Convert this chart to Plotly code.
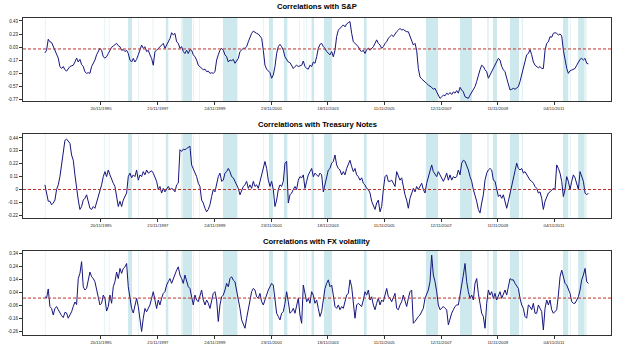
import pandas as pd
import plotly.graph_objects as go

# ---------------- data ----------------
start_date = "1993-11-29"
end_date = "2013-01-19"

sp_corr = [
    -0.06, -0.02, 0.15, 0.11, 0.10, 0.035, -0.02, -0.07, -0.14, -0.27,
    -0.30, -0.27, -0.32, -0.34, -0.31, -0.27, -0.26, -0.25, -0.20, -0.14,
    -0.20, -0.16, -0.24, -0.27, -0.35, -0.375, -0.365, -0.375, -0.27, -0.22,
    -0.17, -0.09, -0.04, 0.01, -0.02, -0.12, -0.14, -0.12, -0.07, -0.02,
    0.025, 0.045, 0.07, 0.086, 0.05, 0.035, -0.02, -0.01, -0.04, -0.02,
    -0.07, -0.17, -0.20, -0.145, -0.20, -0.16, -0.09, -0.02, 0.06, 0.01,
    0.035, -0.04, -0.02, -0.09, -0.145, -0.25, -0.04, -0.02, 0.01, 0.035,
    0.07, 0.086, 0.01, 0.06, 0.086, 0.16, 0.25, 0.215, 0.24, 0.11,
    0.086, 0.01, 0.035, -0.04, -0.07, -0.02, -0.07, -0.01, -0.02, -0.09,
    -0.12, -0.17, -0.25, -0.27, -0.30, -0.32, -0.31, -0.35, -0.34, -0.375,
    -0.365, -0.375, -0.35, -0.17, -0.09, -0.02, 0.01, -0.02, -0.09, -0.12,
    -0.20, -0.17, -0.18, -0.16, -0.22, -0.17, -0.145, -0.04, -0.02, 0.01,
    0.01, 0.035, 0.11, 0.19, 0.24, 0.275, 0.255, 0.24, 0.23, 0.20,
    0.165, -0.02, -0.25, -0.31, -0.34, -0.365, -0.45, -0.40, -0.27, -0.07,
    0.035, 0.07, 0.035, -0.02, -0.12, -0.17, -0.20, -0.21, -0.26, -0.30,
    -0.27, -0.25, -0.27, -0.26, -0.25, -0.185, -0.27, -0.30, -0.31, -0.25,
    -0.27, -0.20, -0.22, -0.12, 0.01, 0.07, 0.086, 0.035, 0.01, -0.04,
    -0.07, -0.09, -0.04, -0.12, -0.02, 0.19, 0.29, 0.317, 0.355, 0.37,
    0.34, 0.385, 0.405, 0.42, 0.24, 0.11, 0.086, 0.06, 0.035, -0.02,
    -0.04, -0.02, -0.07, -0.01, 0.01, -0.02, 0.01, 0.035, 0.086, 0.14,
    0.086, 0.06, 0.01, 0.035, 0.086, 0.11, 0.165, 0.19, 0.215, 0.19,
    0.24, 0.265, 0.29, 0.317, 0.29, 0.30, 0.28, 0.265, 0.265, 0.19,
    0.11, 0.06, 0.086, -0.02, -0.30, -0.43, -0.46, -0.48, -0.50, -0.53,
    -0.555, -0.57, -0.59, -0.62, -0.605, -0.66, -0.71, -0.76, -0.735, -0.71,
    -0.72, -0.68, -0.70, -0.67, -0.70, -0.66, -0.68, -0.64, -0.68, -0.59,
    -0.63, -0.66, -0.735, -0.75, -0.76, -0.71, -0.66, -0.605, -0.58, -0.50,
    -0.40, -0.32, -0.25, -0.27, -0.32, -0.35, -0.45, -0.40, -0.35, -0.32,
    -0.27, -0.22, -0.145, -0.17, -0.27, -0.32, -0.35, -0.45, -0.555, -0.63,
    -0.62, -0.605, -0.62, -0.605, -0.58, -0.50, -0.40, -0.30, -0.20, -0.09,
    -0.07, -0.01, -0.09, -0.20, -0.25, -0.27, -0.29, -0.27, -0.30, -0.30,
    -0.02, 0.086, 0.11, 0.19, 0.18, 0.24, 0.25, 0.24, 0.215, 0.23,
    0.20, -0.02, -0.20, -0.30, -0.375, -0.335, -0.325, -0.315, -0.30, -0.25,
    -0.20, -0.16, -0.145, -0.17, -0.145, -0.22, -0.23,
]

tn_corr = [
    0.04, -0.02, -0.10, -0.10, -0.13, -0.115, -0.09, 0.0, 0.04, 0.11,
    0.225, 0.325, 0.42, 0.43, 0.415, 0.395, 0.295, 0.25, 0.125, 0.0,
    -0.09, -0.17, -0.145, -0.09, -0.075, -0.045, -0.10, -0.16, -0.17, -0.145,
    -0.16, -0.115, -0.06, -0.02, 0.04, 0.11, 0.153, 0.11, 0.167, 0.125,
    0.08, 0.054, 0.026, -0.06, -0.145, -0.10, -0.145, -0.09, -0.06, -0.03,
    0.11, 0.14, 0.10, 0.125, 0.11, 0.167, 0.08, 0.125, 0.11, 0.153,
    0.125, 0.167, 0.14, 0.153, 0.16, 0.14, 0.11, 0.07, 0.0, 0.026,
    -0.03, 0.01, -0.02, 0.01, 0.026, 0.0, 0.01, 0.0, -0.02, 0.04,
    0.054, 0.34, 0.325, 0.345, 0.34, 0.35, 0.36, 0.37, 0.21, 0.18,
    0.14, 0.11, 0.054, 0.026, -0.09, -0.115, -0.16, -0.19, -0.17, -0.13,
    -0.06, 0.0, -0.02, 0.054, 0.11, 0.14, 0.07, 0.08, 0.14, 0.153,
    0.18, 0.153, 0.11, 0.10, 0.07, 0.04, 0.01, -0.045, 0.0, 0.026,
    0.04, 0.07, 0.01, 0.04, 0.01, 0.07, 0.026, 0.04, 0.01, 0.07,
    0.125, 0.196, 0.24, 0.18, 0.08, 0.026, 0.07, 0.0, -0.145, -0.09,
    0.0, 0.04, 0.026, 0.07, 0.225, 0.24, -0.115, -0.045, -0.03, 0.0,
    0.026, 0.0, 0.08, 0.11, 0.10, 0.125, 0.01, 0.07, 0.125, 0.153,
    0.18, 0.11, 0.14, 0.125, 0.11, 0.14, 0.125, -0.02, 0.04, 0.125,
    0.167, 0.18, 0.225, 0.24, 0.295, 0.21, 0.18, 0.167, 0.125, 0.153,
    0.125, 0.18, 0.225, 0.25, 0.196, 0.153, 0.18, 0.125, 0.11, 0.08,
    0.10, 0.054, 0.04, 0.01, 0.0, -0.03, -0.10, -0.145, -0.17, -0.115,
    -0.09, -0.19, -0.145, 0.0, 0.11, 0.125, 0.07, 0.07, 0.08, 0.054,
    0.026, 0.153, 0.11, 0.08, 0.10, 0.01, -0.045, -0.09, -0.16, -0.075,
    -0.03, 0.01, -0.02, 0.026, 0.0, 0.026, 0.054, 0.0, -0.03, 0.054,
    0.10, 0.167, 0.21, 0.153, 0.125, 0.11, 0.153, 0.125, 0.11, 0.07,
    0.10, 0.14, 0.08, 0.125, 0.08, 0.11, 0.10, 0.11, 0.167, 0.125,
    0.225, 0.25, 0.24, 0.21, 0.167, 0.11, 0.07, 0.0, -0.045, -0.10,
    -0.17, -0.20, -0.115, -0.045, 0.08, 0.14, 0.167, 0.18, 0.167, 0.08,
    0.07, 0.0, -0.06, -0.045, -0.075, -0.045, -0.115, -0.16, -0.10, -0.03,
    0.04, 0.11, 0.167, 0.225, 0.18, 0.167, 0.18, 0.14, 0.153, 0.125,
    0.11, 0.08, 0.07, 0.054, 0.026, 0.01, -0.03, -0.02, -0.075, -0.17,
    -0.10, -0.06, -0.03, -0.02, 0.0, 0.01, 0.0, 0.21, 0.18, 0.14,
    0.07, -0.06, 0.0, 0.11, 0.07, 0.0, 0.07, 0.125, 0.10, 0.054,
    0.0, 0.153, 0.11, 0.07, -0.03, -0.045, -0.03,
]

fx_corr = [
    0.01, 0.0, 0.07, -0.065, -0.08, -0.13, -0.08, -0.065, -0.09, -0.115,
    -0.135, -0.15, -0.11, -0.115, -0.155, -0.13, -0.105, -0.065, -0.03, -0.05,
    0.15, 0.19, 0.28, 0.087, 0.062, 0.075, 0.126, 0.20, 0.165, 0.15,
    0.126, 0.062, -0.015, -0.053, -0.04, 0.023, -0.002, -0.10, -0.065, 0.023,
    -0.04, 0.087, 0.126, 0.20, 0.15, 0.228, 0.19, 0.228, 0.24, 0.266,
    0.087, -0.002, -0.08, -0.115, -0.053, -0.002, -0.065, -0.18, -0.257, -0.155,
    -0.08, -0.105, -0.08, -0.053, -0.002, 0.049, -0.015, -0.08, -0.015, -0.053,
    -0.002, 0.036, 0.049, 0.10, 0.126, 0.15, 0.113, 0.15, 0.177, 0.215,
    0.24, 0.177, 0.15, 0.113, 0.177, 0.126, 0.087, 0.074, -0.002, -0.053,
    0.023, -0.015, -0.028, 0.01, 0.062, -0.015, -0.053, -0.015, -0.04, -0.08,
    -0.015, 0.036, 0.049, -0.015, -0.18, -0.053, 0.01, 0.023, 0.062, 0.113,
    0.087, 0.15, 0.164, 0.138, 0.126, 0.062, -0.002, -0.08, -0.168, -0.194,
    -0.232, -0.155, -0.09, -0.002, 0.049, 0.074, 0.062, 0.01, -0.002, 0.036,
    -0.028, -0.053, -0.015, 0.036, 0.062, 0.087, 0.113, 0.10, -0.028, -0.117,
    -0.142, -0.168, -0.117, -0.104, -0.04, 0.049, -0.028, -0.117, -0.104, -0.079,
    -0.117, -0.053, -0.002, -0.13, -0.194, 0.10, 0.023, -0.028, -0.002, -0.04,
    0.049, 0.023, -0.04, -0.015, -0.08, -0.142, -0.104, -0.028, 0.074, 0.113,
    0.14, 0.087, 0.10, 0.023, -0.065, -0.079, -0.053, -0.09, -0.065, -0.079,
    -0.028, 0.023, 0.036, 0.14, 0.087, -0.015, -0.155, -0.053, -0.04, -0.053,
    -0.065, -0.015, 0.049, 0.023, 0.062, -0.015, 0.01, -0.053, -0.09, -0.04,
    -0.002, -0.053, -0.015, -0.028, 0.023, 0.074, 0.01, -0.002, -0.028, 0.01,
    0.036, -0.079, -0.09, -0.053, -0.028, 0.023, -0.015, -0.065, -0.002, 0.049,
    0.062, -0.194, -0.18, -0.155, -0.142, -0.13, -0.104, -0.079, -0.002, 0.036,
    0.062, 0.126, 0.33, 0.177, 0.126, 0.049, -0.053, -0.09, -0.079, -0.065,
    -0.079, -0.09, -0.206, -0.155, -0.117, -0.09, -0.065, -0.053, -0.053, 0.023,
    0.087, 0.177, 0.266, 0.126, 0.049, -0.002, 0.023, -0.015, 0.113, 0.15,
    0.036, -0.053, -0.117, -0.142, -0.232, -0.04, 0.062, 0.023, 0.049, -0.002,
    0.036, -0.015, 0.023, 0.049, -0.002, 0.036, 0.062, 0.023, 0.087, 0.15,
    0.14, 0.14, 0.113, 0.087, 0.074, -0.002, -0.053, -0.079, -0.142, -0.155,
    -0.053, -0.065, -0.09, -0.04, -0.117, -0.117, -0.053, -0.079, -0.104, -0.245,
    -0.079, -0.015, -0.053, -0.015, -0.09, -0.117, -0.104, -0.09, 0.023, 0.164,
    0.215, 0.15, 0.113, 0.10, 0.062, 0.036, -0.028, -0.04, -0.04, -0.015,
    0.01, 0.062, 0.14, 0.177, 0.228, 0.126, 0.113,
]

titles = ["Correlations with S&P", "Correlations with Treasury Notes",
          "Correlations with FX volatility"]

x_tick_dates = ["1995-11-20", "1997-11-21", "1999-11-24", "2001-11-23",
                "2003-11-18", "2005-11-11", "2007-11-12", "2009-11-11",
                "2011-11-04"]
x_tick_labels = ["20/11/1995", "21/11/1997", "24/11/1999", "23/11/2001",
                 "18/11/2003", "11/11/2005", "12/11/2007", "11/11/2009",
                 "04/11/2011"]

sp_ticks = [0.43, 0.23, 0.03, -0.17, -0.37, -0.57, -0.77]
tn_ticks = [0.44, 0.33, 0.22, 0.11, 0, -0.11, -0.22]
fx_ticks = [0.34, 0.24, 0.14, 0.04, -0.06, -0.16, -0.26]

# shaded event periods (start, end, faint?)
band_starts = ["1993-11-28", "1996-01-01", "1996-02-28", "1996-11-03",
               "1997-03-11", "1997-09-13", "1998-03-03", "1998-09-13",
               "1998-10-08", "1999-02-17", "1999-05-05", "2000-03-07",
               "2001-08-04", "2001-10-20", "2002-05-01", "2002-11-10",
               "2003-01-08", "2003-02-10", "2003-04-20", "2003-09-27",
               "2005-02-24", "2005-10-27", "2007-05-01", "2008-07-13",
               "2009-06-25", "2009-09-10", "2010-04-16", "2010-09-13",
               "2012-02-28", "2012-05-30", "2012-09-09", "2012-11-24"]
band_ends = ["1993-12-10", "1996-01-14", "1996-03-10", "1996-12-24",
             "1997-03-22", "1997-09-24", "1998-04-05", "1998-10-08",
             "1999-02-03", "1999-02-28", "1999-05-15", "2000-09-09",
             "2001-08-15", "2001-12-10", "2002-06-14", "2002-11-21",
             "2003-01-19", "2003-02-21", "2003-05-23", "2004-01-08",
             "2005-03-29", "2005-11-07", "2007-10-04", "2008-12-14",
             "2009-07-20", "2009-10-31", "2010-08-11", "2010-10-01",
             "2012-05-05", "2012-06-10", "2012-11-24", "2012-12-27"]
band_faint = [True, True, True, False, True, True, False, True,
              False, True, True, False, True, False, False, True,
              True, True, False, False, False, True, False, False,
              True, False, False, True, False, True, False, True]

# ---------------- figure ----------------
W, H = 625, 349
x_dom = [23 / W, 611 / W]
panel_px = [(18, 101), (134, 218), (251, 335)]
title_px = [7, 125, 242]
y_ranges = [[-0.80, 0.476], [-0.243, 0.474], [-0.284, 0.362]]
series = [sp_corr, tn_corr, fx_corr]
ticks = [sp_ticks, tn_ticks, fx_ticks]
x_range = ["1993-02-20", "2013-11-06"]

fig = go.Figure()
font_fam = "Liberation Sans, Arial, sans-serif"

for i in range(3):
    n = "" if i == 0 else str(i + 1)
    vals = series[i]
    dates = pd.date_range(start_date, end_date, periods=len(vals))

    top, bot = panel_px[i]
    fig.layout["xaxis" + n] = dict(
        domain=x_dom, anchor="y" + n, type="date", range=x_range,
        tickmode="array", tickvals=x_tick_dates, ticktext=x_tick_labels,
        ticks="outside", ticklen=3, tickwidth=1, tickcolor="#333",
        showline=True, mirror=True, linecolor="#333", linewidth=1,
        showgrid=False, zeroline=False,
        tickfont=dict(family=font_fam, size=4.3, color="#222"))
    fig.layout["yaxis" + n] = dict(
        domain=[1 - bot / H, 1 - top / H], anchor="x" + n,
        range=y_ranges[i], tickmode="array", tickvals=ticks[i],
        ticktext=[("0" if t == 0 else f"{t:g}") for t in ticks[i]],
        ticks="outside", ticklen=3, tickwidth=1, tickcolor="#333",
        showline=True, mirror=True, linecolor="#333", linewidth=1,
        showgrid=False, zeroline=False,
        tickfont=dict(family=font_fam, size=4.5, color="#222"))

    # shaded bands
    for s, e, f in zip(band_starts, band_ends, band_faint):
        fig.add_shape(type="rect", xref="x" + n, yref=f"y{n} domain",
                      x0=s, x1=e, y0=0, y1=1, layer="below",
                      fillcolor="#e3f3f5" if f else "#cde9ed",
                      line=dict(width=0))

    fig.add_trace(go.Scatter(
        x=dates, y=vals, mode="lines",
        line=dict(color="#16167e", width=1),
        xaxis="x" + n, yaxis="y" + n, showlegend=False, hoverinfo="skip"))

    # zero reference line (dashed red)
    fig.add_trace(go.Scatter(
        x=x_range, y=[0, 0], mode="lines",
        line=dict(color="#c0302a", width=1, dash="3px,2px"),
        xaxis="x" + n, yaxis="y" + n, showlegend=False, hoverinfo="skip"))

    fig.add_annotation(text="<b>" + titles[i] + "</b>", xref="paper", yref="paper",
                       x=(x_dom[0] + x_dom[1]) / 2, y=1 - title_px[i] / H,
                       xanchor="center", yanchor="middle", showarrow=False,
                       font=dict(family=font_fam, size=7.6, color="#000"))

fig.update_layout(width=W, height=H, margin=dict(l=0, r=0, t=0, b=0),
                  paper_bgcolor="white", plot_bgcolor="white",
                  showlegend=False)

fig.write_html("out.html")
